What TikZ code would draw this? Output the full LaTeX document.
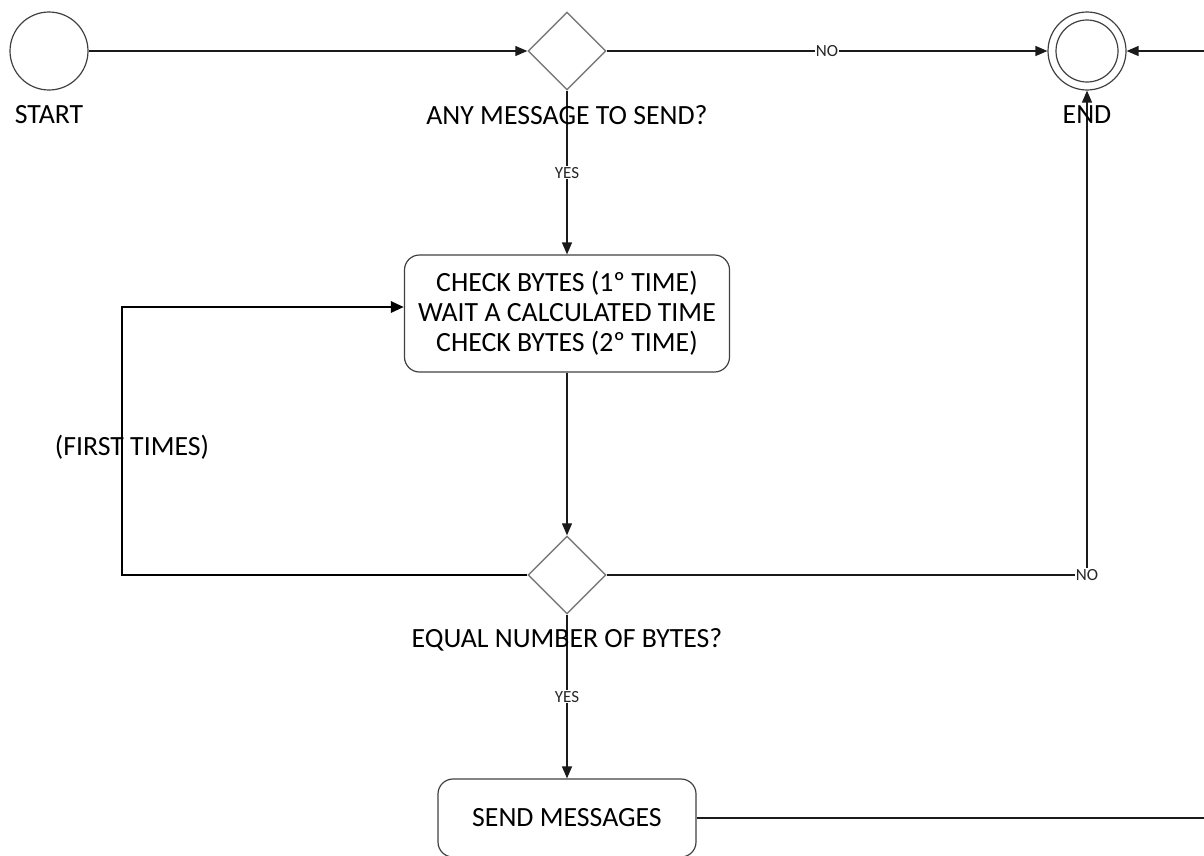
\documentclass[tikz,border=0pt]{standalone}
\usepackage{fontspec}
\setmainfont{Carlito}
\usetikzlibrary{shapes.geometric,arrows.meta}
\definecolor{shapegray}{HTML}{404040}
\definecolor{diagray}{HTML}{7A7A7A}
\definecolor{linecol}{HTML}{1A1A1A}
\begin{document}
\begin{tikzpicture}[x=1pt,y=-1pt,
  bigfont/.style={font=\fontsize{27.8}{30}\selectfont},
  event/.style={circle,draw=shapegray,line width=1.2pt,minimum size=78pt,inner sep=0pt},
  innerring/.style={circle,draw=shapegray,line width=1.2pt,minimum size=62pt,inner sep=0pt},
  decision/.style={diamond,draw=diagray,line width=1.4pt,minimum size=78pt,inner sep=0pt},
  process/.style={rectangle,rounded corners=15pt,draw=shapegray,line width=1.2pt,align=center,bigfont,inner sep=0pt},
  lbl/.style={bigfont,inner sep=0pt},
  edgelbl/.style={font=\fontsize{17}{20}\selectfont,fill=white,inner sep=1pt,text=black!85},
  arr/.style={draw=linecol,line width=1.3pt,-{Triangle[length=12pt,width=10pt]}},
  plain/.style={draw=linecol,line width=1.3pt},
  loopline/.style={draw=black,line width=2.8pt,-{Triangle[length=13pt,width=11pt]}}
]
\useasboundingbox (0,0) rectangle (1204,855);

% events
\node[event] (start) at (49,51) {};
\node[lbl] (startlbl) at (49,115) {START};
\node[event] (end) at (1087,51) {};
\node[innerring] (endin) at (1087,51) {};

% decisions
\node[decision] (q1) at (567,51) {};
\node[decision] (q2) at (567,575) {};

% activities
\node[process,minimum width=325pt,minimum height=117pt] (check) at (567,313.5)
  {CHECK BYTES (1º TIME)\\WAIT A CALCULATED TIME\\CHECK BYTES (2º TIME)};
\node[process,minimum width=258pt,minimum height=78pt] (send) at (567,818) {SEND MESSAGES};

% free ends and bends
\coordinate (rightin) at (1204,51);
\coordinate (rightout) at (1204,818);
\coordinate (loopcorner) at (122,307);
\coordinate (nocorner) at (1087,575);

% connectors
\draw[arr] (start) -- (q1);
\draw[arr] (q1) -- node[edgelbl] (no1) {NO} (end);
\draw[arr] (rightin) -- (end);
\draw[arr] (q1) -- node[edgelbl] (yes1) {YES} (check);
\draw[arr] (check) -- (q2);
\draw[arr] (q2) -- node[edgelbl] (yes2) {YES} (send);
\draw[plain] (send.east |- rightout) -- (rightout);
\draw[loopline] (q2.west) -| (loopcorner) -- (loopcorner -| check.west);
\draw[arr] (q2.east) -- (nocorner) -- (end.south);
\node[edgelbl] (no2) at (nocorner) {NO};

% captions
\node[lbl] (q1lbl) at (567,115) {ANY MESSAGE TO SEND?};
\node[lbl] (q2lbl) at (567,640) {EQUAL NUMBER OF BYTES?};
\node[lbl] (endlbl) at (1087,115) {END};
\node[lbl] (firstlbl) at (132,447) {(FIRST TIMES)};
\end{tikzpicture}
\end{document}
